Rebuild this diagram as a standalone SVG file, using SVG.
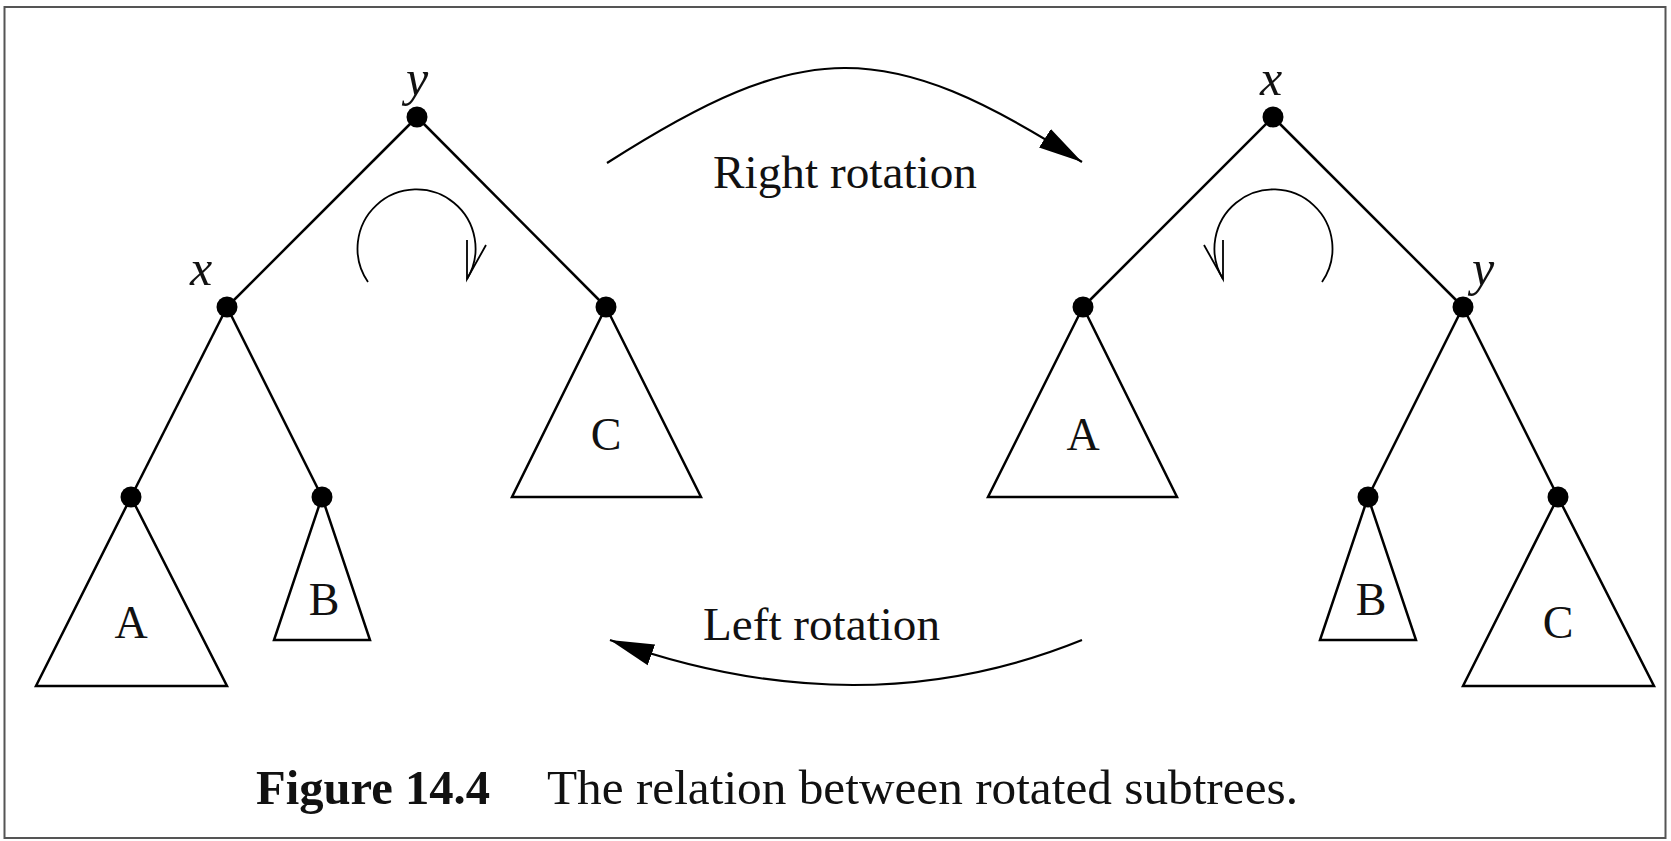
<svg xmlns="http://www.w3.org/2000/svg" width="1671" height="841" viewBox="0 0 1671 841">
<style>
.edge{stroke:#000;stroke-width:2.5;fill:none}
.tri{stroke:#000;stroke-width:2.5;fill:none;stroke-linejoin:miter}
.dot{fill:#000}
.lbl{font-family:"Liberation Serif",serif;font-size:46px;fill:#111;text-anchor:middle}
.var{font-family:"Liberation Serif",serif;font-style:italic;font-size:50px;fill:#111;text-anchor:middle}
.rot{font-family:"Liberation Serif",serif;font-size:47px;fill:#111}
.curl{stroke:#000;stroke-width:1.8;fill:none}
.arr{stroke:#000;stroke-width:2.2;fill:none}
.cap{font-family:"Liberation Serif",serif;font-size:48px;fill:#111}
</style>
<defs>
<marker id="head" markerUnits="userSpaceOnUse" markerWidth="48" markerHeight="28" refX="44" refY="12" orient="auto" viewBox="0 0 48 28">
<path d="M44,12 L0,1 L0,23 Z" fill="#000"/>
</marker>
<g id="curlShape">
<path d="M368,282 A59,59 0 1 1 467,279" class="curl"/>
<path d="M467,240 L467,279 L486,245" class="curl"/>
</g>
</defs>
<rect x="4.5" y="7" width="1661" height="831" fill="#fff" stroke="#555" stroke-width="2"/>

<g id="connectors">
<line class="edge" x1="417" y1="117" x2="227" y2="307"/>
<line class="edge" x1="417" y1="117" x2="606" y2="307"/>
<line class="edge" x1="227" y1="307" x2="131" y2="497"/>
<line class="edge" x1="227" y1="307" x2="322" y2="497"/>
<line class="edge" x1="1273" y1="117" x2="1083" y2="307"/>
<line class="edge" x1="1273" y1="117" x2="1463" y2="307"/>
<line class="edge" x1="1463" y1="307" x2="1368" y2="497"/>
<line class="edge" x1="1463" y1="307" x2="1558" y2="497"/>
<path id="right-rotation" class="arr" d="M607,163 C804,37 885,36 1082,162" marker-end="url(#head)"/>
<path id="left-rotation" class="arr" d="M1082,640 Q860,730 610,640" marker-end="url(#head)"/>
</g>

<g id="left-tree">
<g id="L-y"><circle class="dot" cx="417" cy="117" r="10.5"/><text class="var" x="417" y="95">y</text></g>
<g id="L-x"><circle class="dot" cx="227" cy="307" r="10.5"/><text class="var" x="201" y="285">x</text></g>
<g id="L-A"><polygon class="tri" points="131,497 36,686 227,686"/><circle class="dot" cx="131" cy="497" r="10.5"/><text class="lbl" x="131" y="638">A</text></g>
<g id="L-B"><polygon class="tri" points="322,497 274,640 370,640"/><circle class="dot" cx="322" cy="497" r="10.5"/><text class="lbl" x="324" y="615">B</text></g>
<g id="L-C"><polygon class="tri" points="606,307 512,497 701,497"/><circle class="dot" cx="606" cy="307" r="10.5"/><text class="lbl" x="606" y="450">C</text></g>
<g id="L-curl"><use href="#curlShape"/></g>
</g>

<g id="right-tree">
<g id="R-x"><circle class="dot" cx="1273" cy="117" r="10.5"/><text class="var" x="1271" y="95">x</text></g>
<g id="R-y"><circle class="dot" cx="1463" cy="307" r="10.5"/><text class="var" x="1483" y="285">y</text></g>
<g id="R-A"><polygon class="tri" points="1083,307 988,497 1177,497"/><circle class="dot" cx="1083" cy="307" r="10.5"/><text class="lbl" x="1083" y="450">A</text></g>
<g id="R-B"><polygon class="tri" points="1368,497 1320,640 1416,640"/><circle class="dot" cx="1368" cy="497" r="10.5"/><text class="lbl" x="1371" y="615">B</text></g>
<g id="R-C"><polygon class="tri" points="1558,497 1463,686 1654,686"/><circle class="dot" cx="1558" cy="497" r="10.5"/><text class="lbl" x="1558" y="638">C</text></g>
<g id="R-curl"><use href="#curlShape" transform="translate(1690,0) scale(-1,1)"/></g>
</g>

<g id="labels">
<text class="rot" x="713" y="188" textLength="264" lengthAdjust="spacingAndGlyphs">Right rotation</text>
<text class="rot" x="703" y="640" textLength="237" lengthAdjust="spacingAndGlyphs">Left rotation</text>
</g>

<g id="caption">
<text class="cap" x="256" y="804" font-weight="bold" textLength="234" lengthAdjust="spacingAndGlyphs">Figure 14.4</text>
<text class="cap" x="547" y="804" textLength="751" lengthAdjust="spacingAndGlyphs">The relation between rotated subtrees.</text>
</g>
</svg>
